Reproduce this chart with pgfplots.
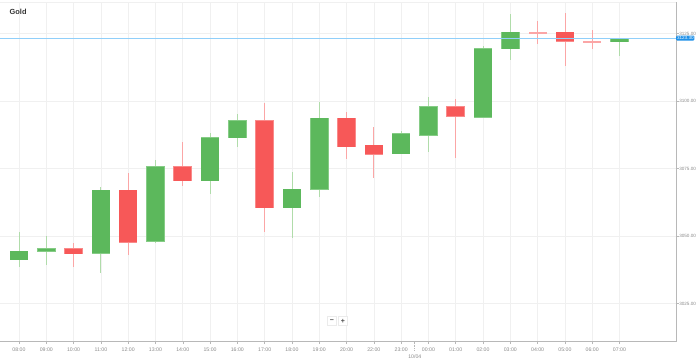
\documentclass[border=0pt]{standalone}
\usepackage{fontspec}
\setmainfont{Liberation Sans}
\usepackage{pgfplots}
\usepackage{pgfplotstable}
\pgfplotsset{compat=1.18}
\definecolor{gbody}{HTML}{5CB85C}
\definecolor{gedge}{HTML}{86CC86}
\definecolor{gwick}{HTML}{B0DCAA}
\definecolor{rbody}{HTML}{F75858}
\definecolor{redge}{HTML}{F98A8A}
\definecolor{rwick}{HTML}{FBA6A6}
\definecolor{gridc}{HTML}{F0F0F0}
\definecolor{axisc}{HTML}{B8B8B8}
\definecolor{tickc}{HTML}{8A8A8A}
\definecolor{pline}{HTML}{90CFFA}
\definecolor{pbox}{HTML}{1E90E8}
% x = hour slot, o h l c
\pgfplotstableread{
x o h l c
0 3041.2 3051.5 3038.6 3044.4
1 3044.3 3050.0 3039.3 3045.2
3 3043.6 3068.3 3036.4 3066.9
5 3048.1 3078.1 3047.5 3075.6
7 3070.4 3088.0 3065.4 3086.4
8 3086.4 3095.1 3083.1 3092.6
10 3060.4 3073.8 3049.1 3067.4
11 3067.3 3099.5 3064.6 3093.6
14 3080.5 3089.0 3080.2 3087.8
15 3087.4 3101.6 3081.2 3097.9
17 3094.1 3120.5 3094.1 3119.4
18 3119.3 3132.1 3115.2 3125.4
22 3122.0 3123.3 3116.8 3123.3
}\green
\pgfplotstableread{
x o h l c
2 3045.2 3047.3 3038.6 3043.4
4 3066.9 3073.2 3043.0 3047.7
6 3075.7 3084.7 3068.6 3070.4
9 3092.7 3099.1 3051.4 3060.5
12 3093.6 3095.8 3078.4 3083.0
13 3083.7 3090.5 3071.6 3080.3
16 3097.9 3100.6 3078.8 3094.3
20 3125.4 3132.7 3113.1 3122.2
}\red
\pgfplotstableread{
x o h l c
19 3125.5 3129.5 3121.2 3125.2
21 3122.1 3126.4 3119.1 3121.9
}\doji
\pgfplotsset{
  wick/.style={draw=none, mark=none, error bars/.cd, y dir=both, y explicit,
    error mark=none, error bar style={draw=#1, line width=0.8pt}},
  body/.style 2 args={draw=none, mark=none, error bars/.cd, y dir=both, y explicit,
    error mark=none, error bar style={draw=#1, line width=#2}},
}
\newcommand{\wicks}[2]{\addplot[wick=#2] table[x=x, y expr=(\thisrow{h}+\thisrow{l})/2, y error expr=(\thisrow{h}-\thisrow{l})/2] {#1};}
\newcommand{\bodies}[4]{\addplot[body={#2}{#3}] table[x=x, y expr=(\thisrow{o}+\thisrow{c})/2, y error expr=abs(\thisrow{c}-\thisrow{o})/2+#4] {#1};}
\begin{document}
\begin{tikzpicture}
\useasboundingbox (0,0) rectangle (699pt,359pt);
\begin{axis}[
  at={(0pt,17.5pt)}, anchor=south west, scale only axis,
  width=676pt, height=339.5pt,
  xmin=-0.696, xmax=24.07, ymin=3010.93, ymax=3136.67,
  axis x line*=bottom, axis y line*=right,
  axis line style={-, draw=axisc, line width=0.8pt},
  xtick={0,...,22},
  xticklabels={08:00,09:00,10:00,11:00,12:00,13:00,14:00,15:00,16:00,17:00,18:00,19:00,20:00,22:00,23:00,00:00,01:00,02:00,03:00,04:00,05:00,06:00,07:00},
  ytick={3025,3050,3075,3100,3125},
  yticklabels={3025.00,3050.00,3075.00,3100.00,3125.00},
  grid=major, major grid style={draw=gridc, line width=0.6pt},
  tick align=outside, major tick length=2.5pt,
  tick style={draw=axisc, line width=0.5pt},
  xticklabel style={font=\fontsize{5.2}{6}\selectfont, text=tickc},
  yticklabel style={font=\fontsize{4.6}{5}\selectfont, text=tickc, inner sep=0.6pt},
  /pgf/number format/assume math mode=true,
  clip=false,
]
\draw[gridc, line width=0.8pt] (rel axis cs:0,1) -- (rel axis cs:1,1);
\wicks{\green}{gwick}
\wicks{\red}{rwick}
\wicks{\doji}{rwick}
\bodies{\green}{gedge}{18.6pt}{0.2}
\bodies{\green}{gbody}{17.4pt}{0}
\bodies{\red}{redge}{18.6pt}{0.2}
\bodies{\red}{rbody}{17.4pt}{0}
\bodies{\doji}{rwick}{18pt}{0.15}
\addplot[pline, line width=0.8pt] coordinates {(-0.696,3123.3) (24.07,3123.3)};
\node[fill=pbox, text=white, rounded corners=1pt, inner sep=0.8pt, anchor=west,
  font=\fontsize{4.6}{5}\selectfont] at (axis cs:24.07,3123.3) {3123.30};
\draw[densely dotted, axisc, line width=0.6pt] (axis cs:14.5,3010.93) -- (axis cs:14.5,3007.6);
\node[font=\fontsize{5.2}{6}\selectfont, text=tickc] at (axis cs:14.5,3005.3) {10/04};
\end{axis}
\node[anchor=west, font=\bfseries\fontsize{7.4}{9}\selectfont, text=black!80, inner sep=0pt] at (9.5pt,347pt) {Gold};
\node[draw=black!8, fill=white, inner sep=1.5pt, minimum size=9pt, font=\fontsize{7}{7}\selectfont\bfseries, text=black!70] at (332pt,38pt) {−};
\node[draw=black!8, fill=white, inner sep=1.5pt, minimum size=9pt, font=\fontsize{7}{7}\selectfont\bfseries, text=black!70] at (343pt,38pt) {+};
\end{tikzpicture}
\end{document}
